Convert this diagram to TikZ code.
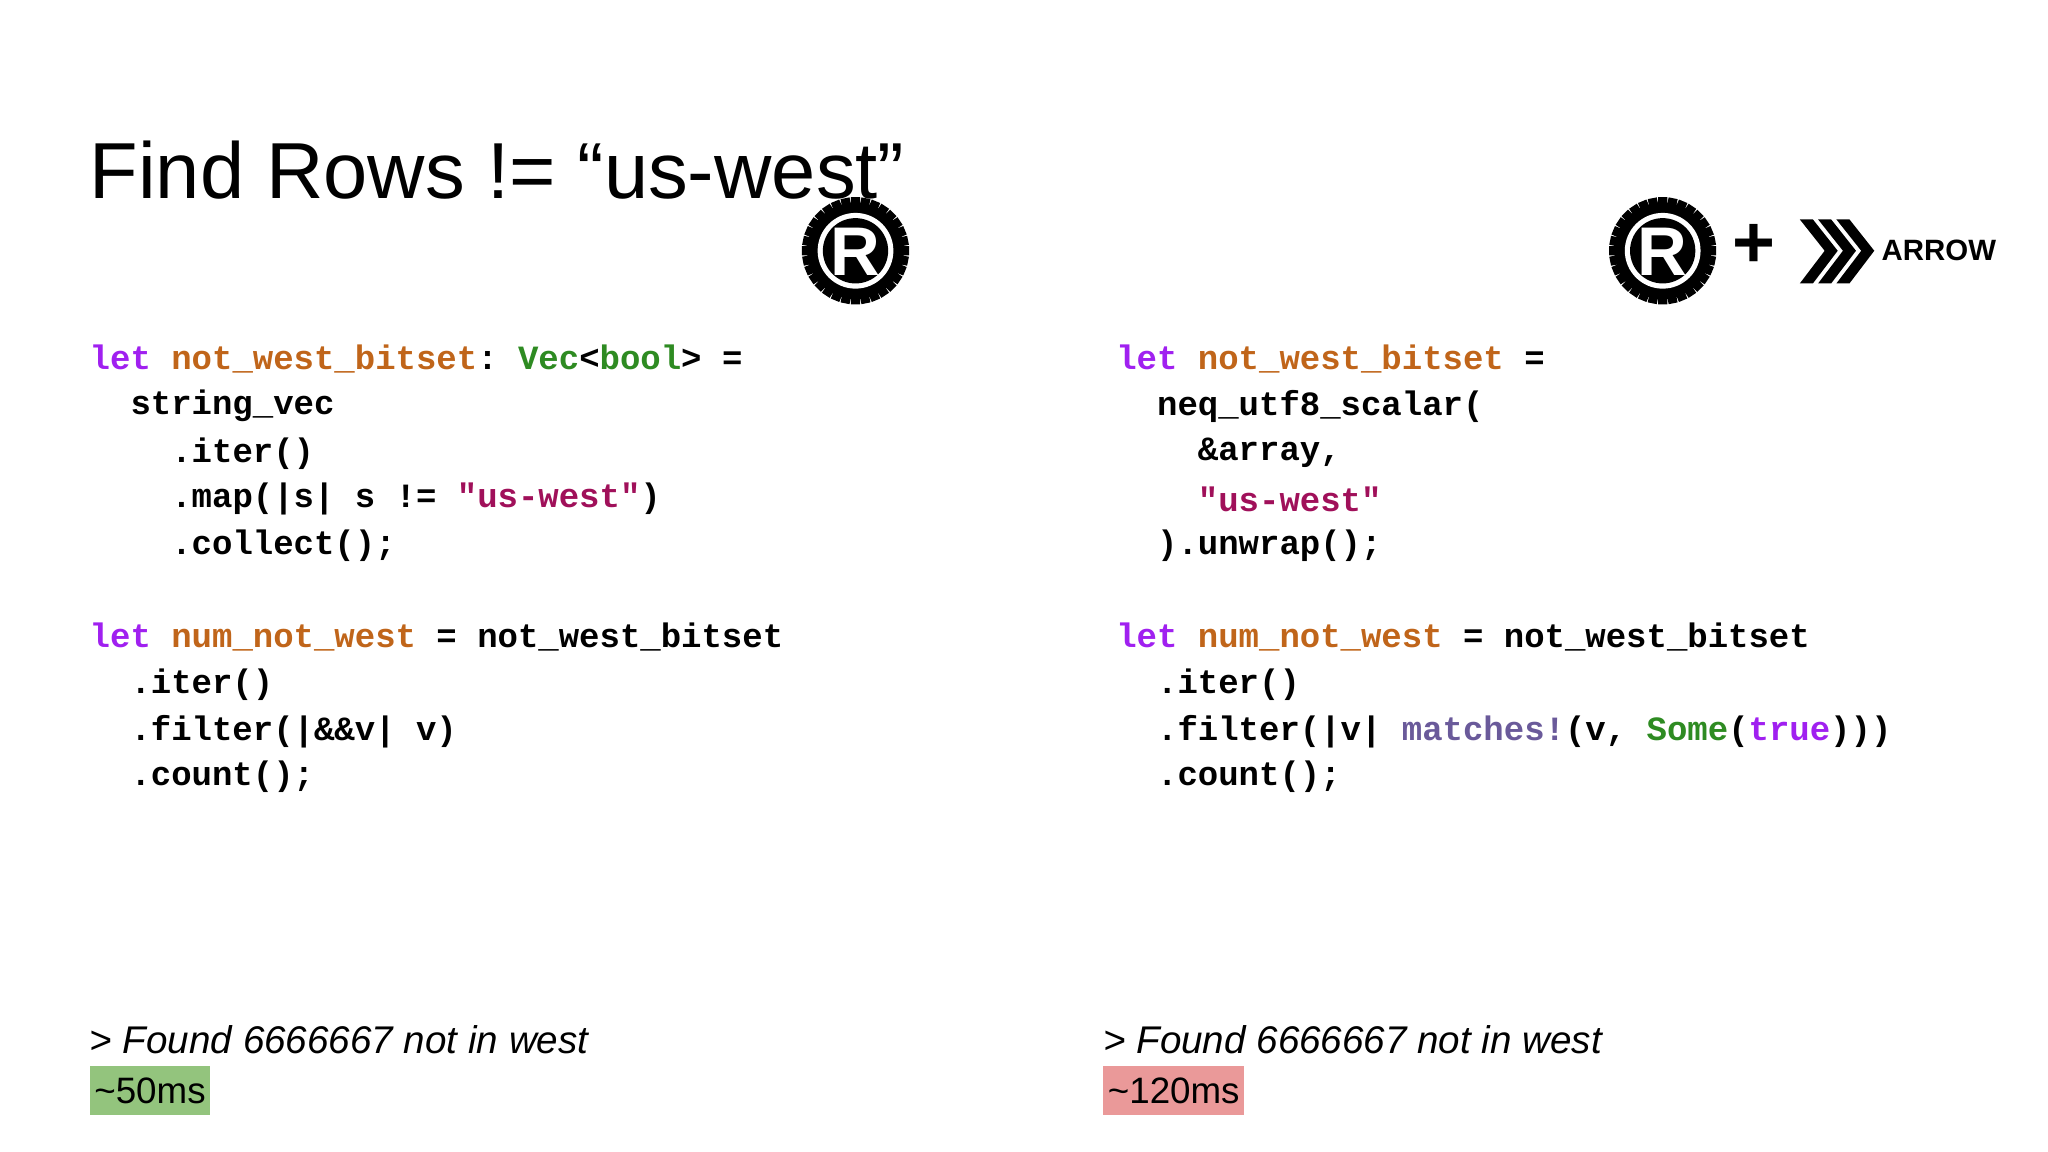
\documentclass[tikz,border=0pt]{standalone}
\usepackage{fontspec}
\setmainfont{Liberation Sans}
\setmonofont{Liberation Mono}
\definecolor{kw}{HTML}{A020F0}
\definecolor{id}{HTML}{C0651A}
\definecolor{ty}{HTML}{2E8B22}
\definecolor{st}{HTML}{A0105A}
\definecolor{mc}{HTML}{6A5A9A}
\definecolor{hgreen}{HTML}{93C47D}
\definecolor{hred}{HTML}{EA9999}
\newcommand{\K}[1]{\textcolor{kw}{#1}}
\newcommand{\I}[1]{\textcolor{id}{#1}}
\newcommand{\T}[1]{\textcolor{ty}{#1}}
\newcommand{\Sq}[1]{\textcolor{st}{#1}}
\newcommand{\M}[1]{\textcolor{mc}{#1}}
\tikzset{
 code/.style={anchor=west,inner sep=0pt,font=\fontsize{7.4}{9}\selectfont\ttfamily\bfseries},
 res/.style={anchor=west,inner sep=0pt,font=\fontsize{8.4}{10}\selectfont\itshape},
 tim/.style={anchor=west,inner xsep=1pt,inner ysep=2.5pt,font=\fontsize{8}{10}\selectfont},
}
\begin{document}
\begin{tikzpicture}[x=0.01cm,y=-0.01cm]
\useasboundingbox (0,0) rectangle (1568,882);
\node[anchor=west,inner sep=0pt,font=\fontsize{17.3}{22}\selectfont] (title) at (68,130) {Find Rows != “us-west”};
% rust logos
\foreach \cx/\nm in {655/r1,1273/r2}{
 \fill[black] (\cx,192) circle (37);
 \foreach \a in {0,11.25,...,348.75}{\fill (\cx,192) ++(\a:36) -- ++(\a+90:3.5) -- ++(\a:5) -- ++(\a-90:7) -- ++(\a+180:5) -- cycle;}
 \fill[white] (\cx,192) circle (29);
 \fill[black] (\cx,192) circle (25);
 \node[text=white,font=\fontsize{15}{15}\selectfont\bfseries,inner sep=0pt] (\nm) at (\cx,193) {R};
}
\node[font=\fontsize{16}{16}\selectfont\bfseries] (plus) at (1343,188) {+};
\foreach \dx in {0,14,28}{
 \fill (1378+\dx,168) -- (1388+\dx,168) -- (1407+\dx,192) -- (1388+\dx,217) -- (1378+\dx,217) -- (1397+\dx,192) -- cycle;}
\node[anchor=west,inner sep=0pt,font=\fontsize{6.4}{8}\selectfont\bfseries] (arrow) at (1440,192) {ARROW};
% left code
\node[code] (l1) at (68,275) {\K{let} \I{not\_west\_bitset}: \T{Vec}<\T{bool}> =};
\node[code] (l2) at (68,311) {\ \ string\_vec};
\node[code] (l3) at (68,347) {\ \ \ \ .iter()};
\node[code] (l4) at (68,382) {\ \ \ \ .map(|s| s != \Sq{"us-west"})};
\node[code] (l5) at (68,418) {\ \ \ \ .collect();};
\node[code] (l6) at (68,488) {\K{let} \I{num\_not\_west} = not\_west\_bitset};
\node[code] (l7) at (68,524) {\ \ .iter()};
\node[code] (l8) at (68,560) {\ \ .filter(|\&\&v| v)};
\node[code] (l9) at (68,595) {\ \ .count();};
% right code
\node[code] (r1) at (854,275) {\K{let} \I{not\_west\_bitset} =};
\node[code] (r2) at (854,311) {\ \ neq\_utf8\_scalar(};
\node[code] (r3) at (854,347) {\ \ \ \ \&array,};
\node[code] (r4) at (854,382) {\ \ \ \ \Sq{"us-west"}};
\node[code] (r5) at (854,418) {\ \ ).unwrap();};
\node[code] (r6) at (854,488) {\K{let} \I{num\_not\_west} = not\_west\_bitset};
\node[code] (r7) at (854,524) {\ \ .iter()};
\node[code] (r8) at (854,560) {\ \ .filter(|v| \M{matches!}(v, \T{Some}(\K{true})))};
\node[code] (r9) at (854,595) {\ \ .count();};
% results
\node[res] (f1) at (68,796) {> Found 6666667 not in west};
\node[res] (f2) at (844,796) {> Found 6666667 not in west};
\node[tim,fill=hgreen] (t1) at (68,835) {\textasciitilde50ms};
\node[tim,fill=hred] (t2) at (844,835) {\textasciitilde120ms};
\end{tikzpicture}
\end{document}
